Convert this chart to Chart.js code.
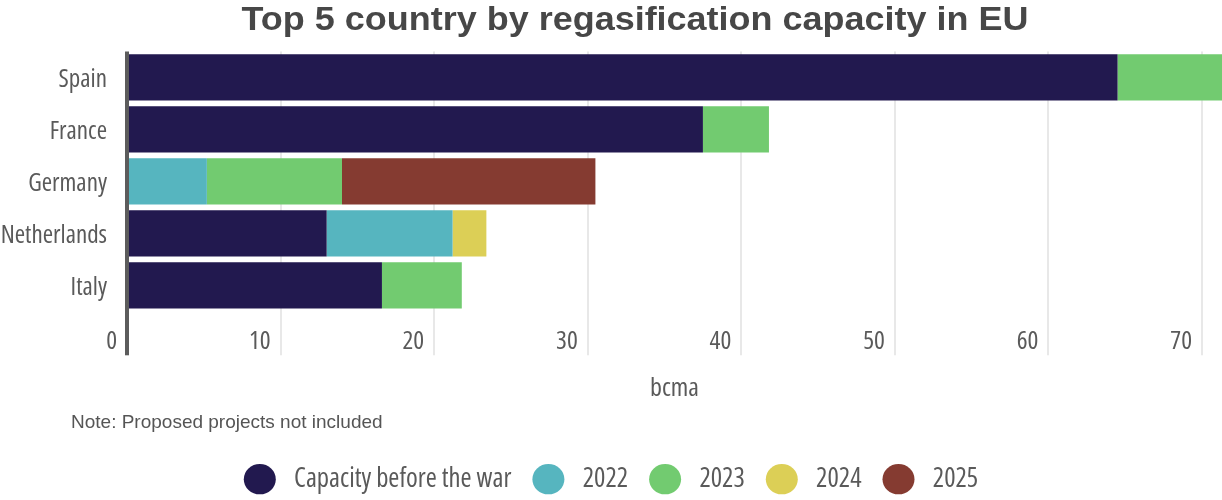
<!DOCTYPE html>
<html>
<head>
<meta charset="utf-8">
<script src="https://cdn.jsdelivr.net/npm/chart.js@4/dist/chart.umd.min.js"></script>
<style>
  html, body { margin: 0; padding: 0; background: #ffffff; }
  #wrap { position: relative; width: 1222px; height: 500px; overflow: hidden; }
  #chart { position: absolute; left: 0; top: 0; }
  #title {
    position: absolute; left: 0; top: 2px; width: 1270px;
    text-align: center; white-space: nowrap;
    font: bold 33px "Liberation Sans", Arial, sans-serif; line-height: 34px;
    color: #474747; transform: scaleX(1.09); transform-origin: 635px 0;
  }
  #note {
    position: absolute; left: 71px; top: 412px; white-space: nowrap;
    font: 19px "Liberation Sans", Arial, sans-serif; line-height: 20px;
    color: #555555;
  }
</style>
</head>
<body>
<div id="wrap">
  <canvas id="chart" width="1222" height="500"></canvas>
  <div id="title">Top 5 country by regasification capacity in EU</div>
  <div id="note">Note: Proposed projects not included</div>
</div>
<script>
// Regasification capacity (bcma) per country, split by when it came online
const countries = ['Spain', 'France', 'Germany', 'Netherlands', 'Italy'];
const seriesNames = ['Capacity before the war', '2022', '2023', '2024', '2025'];
const beforeWar = [64.5, 37.5, null, 13.0, 16.6];
const cap2022   = [null, null, 5.2, 8.2, null];
const cap2023   = [8.0, 4.3, 8.8, null, 5.2];
const cap2024   = [null, null, null, 2.2, null];
const cap2025   = [null, null, 16.5, null, null];
const seriesColors = ['#22194f', '#56b5bf', '#72cb70', '#dccf56', '#853b31'];
const axisTitle = 'bcma';
const xMax = 71.3;
const xStep = 10;

// Condensed sans for axis and legend text
const condensed = (size) => ({ family: "'Open Sans', sans-serif", size: size, weight: '400 condensed' });
const textGrey = '#5a5a5a';

const seriesValues = [beforeWar, cap2022, cap2023, cap2024, cap2025];

new Chart(document.getElementById('chart'), {
  type: 'bar',
  data: {
    labels: countries,
    datasets: seriesValues.map((vals, i) => ({
      label: seriesNames[i],
      data: vals,
      backgroundColor: seriesColors[i],
      borderWidth: 0,
      categoryPercentage: 0.89,
      barPercentage: 1.0
    }))
  },
  options: {
    indexAxis: 'y',
    responsive: false,
    animation: false,
    layout: { padding: { top: 51.5, right: 0, bottom: -2.5, left: 0 } },
    scales: {
      x: {
        stacked: true,
        min: 0,
        max: xMax,
        border: { display: false },
        grid: {
          drawTicks: true,
          tickLength: 44,
          color: (c) => (c.tick && c.tick.value === 0 ? '#5c5c5c' : '#e8e8e8'),
          lineWidth: (c) => (c.tick && c.tick.value === 0 ? 4 : 2)
        },
        ticks: {
          stepSize: xStep,
          includeBounds: false,
          align: 'end',
          labelOffset: -10,
          padding: -29.3,
          color: textGrey,
          font: condensed(25.5),
          maxRotation: 0
        },
        title: {
          display: true,
          text: axisTitle,
          color: textGrey,
          font: condensed(26),
          padding: { top: 45.4, bottom: 40.9 }
        }
      },
      y: {
        stacked: true,
        border: { display: false },
        grid: { display: false, drawTicks: false },
        ticks: {
          padding: 20,
          labelOffset: 2.5,
          color: textGrey,
          font: condensed(25)
        },
        afterFit: (scale) => { scale.width = 127; }
      }
    },
    plugins: {
      tooltip: { enabled: false },
      legend: {
        position: 'bottom',
        labels: {
          usePointStyle: true,
          pointStyle: 'circle',
          boxHeight: 21.5,
          pointStyleWidth: 32,
          padding: 21,
          color: textGrey,
          font: condensed(26.7),
          generateLabels: (chart) =>
            Chart.defaults.plugins.legend.labels.generateLabels(chart)
              .map((item) => ({ ...item, text: ' ' + item.text }))
        }
      }
    }
  }
});
</script>
</body>
</html>
